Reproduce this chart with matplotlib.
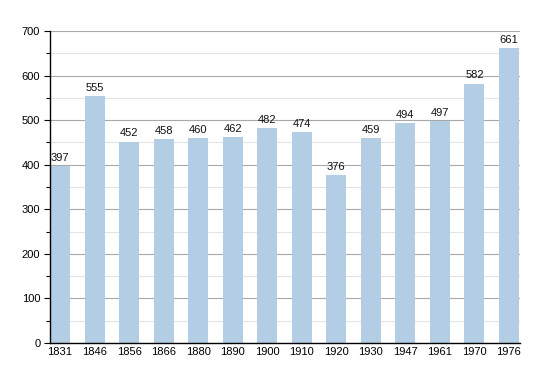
import matplotlib
matplotlib.use('Agg')
import matplotlib.pyplot as plt
from matplotlib.ticker import MultipleLocator

years = ['1831', '1846', '1856', '1866', '1880', '1890', '1900', '1910', '1920', '1930', '1947', '1961', '1970', '1976']
population = [397, 555, 452, 458, 460, 462, 482, 474, 376, 459, 494, 497, 582, 661]

plt.rcParams['font.family'] = ['Liberation Sans', 'DejaVu Sans']

fig = plt.figure(figsize=(5.5, 3.73), dpi=100)
ax = fig.add_axes([50 / 550, 30 / 373, 470 / 550, 312 / 373])

xs = list(range(len(years)))
ax.bar(xs, population, width=0.58, color='#b3cde4', zorder=2)
for x, v in zip(xs, population):
    ax.text(x, v + 7, str(v), ha='center', va='bottom', fontsize=8, color='#111111', zorder=3)

ax.set_xlim(-0.29, 13.32)
ax.set_ylim(0, 700)
ax.yaxis.set_major_locator(MultipleLocator(100))
ax.yaxis.set_minor_locator(MultipleLocator(50))
ax.grid(which='major', axis='y', color='#a8a8a8', linewidth=0.8, zorder=0)
ax.grid(which='minor', axis='y', color='#e4e4e4', linewidth=0.8, zorder=0)

ax.set_xticks(xs)
ax.set_xticklabels(years, fontsize=8)
ax.tick_params(axis='x', length=0, pad=3)
ax.tick_params(axis='y', which='major', length=4, width=0.8, labelsize=8, pad=3)
ax.tick_params(axis='y', which='minor', length=3, width=0.8)

for side in ['top', 'right']:
    ax.spines[side].set_visible(False)
ax.spines['left'].set_linewidth(1)
ax.spines['bottom'].set_linewidth(1)

fig.savefig('out.png', dpi=100)
